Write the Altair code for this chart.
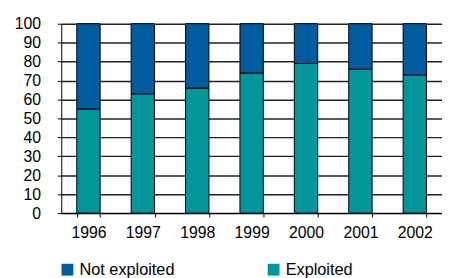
import altair as alt
import pandas as pd

years = ["1996", "1997", "1998", "1999", "2000", "2001", "2002"]
exploited = [55, 63, 66, 74, 79, 76, 73]
not_exploited = [100 - v for v in exploited]

series = ["Not exploited", "Exploited"]
colors = ["#005B9F", "#00969B"]

rows = []
for y, e, n in zip(years, exploited, not_exploited):
    rows.append({"year": y, "status": "Exploited", "value": e, "ord": 0})
    rows.append({"year": y, "status": "Not exploited", "value": n, "ord": 1})
df = pd.DataFrame(rows)

font = "Liberation Sans"

chart = alt.Chart(df).mark_bar(stroke="black", strokeWidth=1).encode(
    x=alt.X("year:N", title=None, sort=years,
            scale=alt.Scale(paddingInner=0.57, paddingOuter=0.285),
            axis=alt.Axis(labelAngle=0, tickBand="extent", grid=False,
                          domainColor="black", tickColor="black",
                          tickSize=4, labelPadding=8, labelFontSize=16,
                          labelColor="black", labelFont=font)),
    y=alt.Y("value:Q", title=None, stack="zero",
            scale=alt.Scale(domain=[0, 100], nice=False),
            axis=alt.Axis(values=list(range(0, 101, 10)), grid=True,
                          gridColor="#222", gridWidth=1.5, gridOpacity=1,
                          domainColor="black", tickColor="black",
                          tickSize=4, labelPadding=17, labelFontSize=16,
                          labelColor="black", labelFont=font)),
    color=alt.Color("status:N", scale=alt.Scale(domain=series, range=colors),
                    legend=alt.Legend(title=None, orient="none", legendX=-2,
                                      legendY=241, direction="horizontal",
                                      columns=2, columnPadding=92,
                                      symbolType="square", symbolSize=144,
                                      symbolStrokeWidth=0, labelOffset=4,
                                      labelFontSize=16.5, labelFont=font,
                                      labelColor="black", padding=0)),
    order=alt.Order("ord:Q"),
).properties(
    width=386, height=192,
    autosize=alt.AutoSizeParams(type="none"),
    padding={"left": 54, "top": 14, "right": 0, "bottom": 72},
).configure_view(stroke=None)

chart.save("out.html", embed_options={"renderer": "svg", "actions": False})
